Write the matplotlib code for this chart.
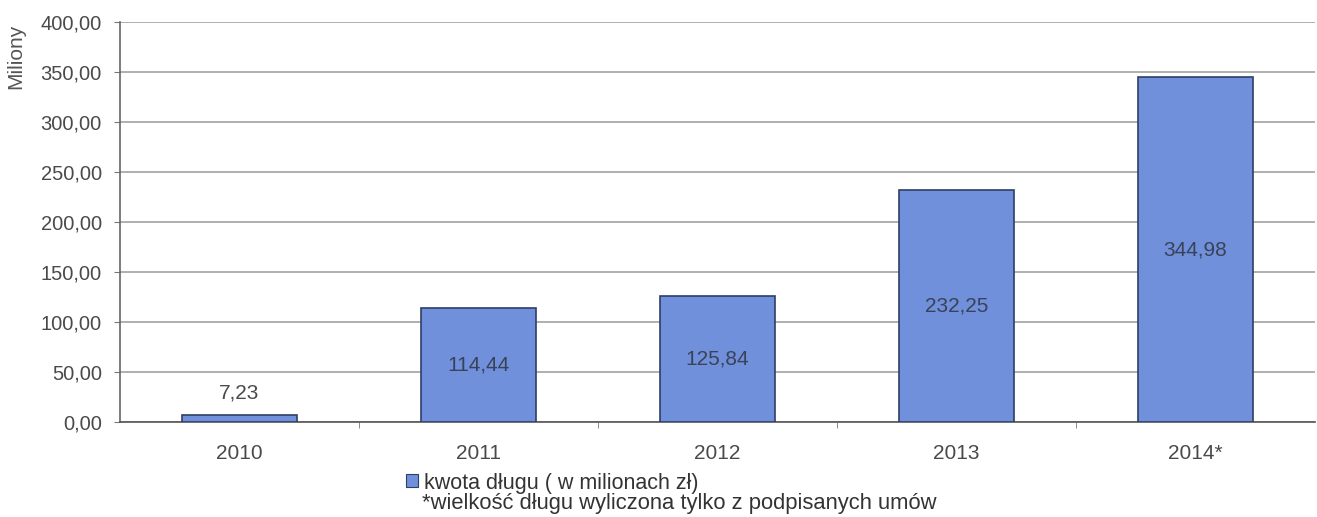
import matplotlib.pyplot as plt
from matplotlib.patches import Patch

years = ['2010', '2011', '2012', '2013', '2014*']
debt = [7.23, 114.44, 125.84, 232.25, 344.98]
labels = ['7,23', '114,44', '125,84', '232,25', '344,98']
yticks = [0, 50, 100, 150, 200, 250, 300, 350, 400]

plt.rcParams['font.family'] = ['Liberation Sans', 'DejaVu Sans']

fig = plt.figure(figsize=(13.17, 5.17), dpi=100)
ax = fig.add_axes([120 / 1317, 1 - 422 / 517, 1195 / 1317, 400 / 517])

x = range(len(years))
bars = ax.bar(x, debt, width=0.48, color='#7090dc', edgecolor='#2f3f66', linewidth=1.2, zorder=3)

for i, b in enumerate(bars):
    if i == 0:
        ax.text(b.get_x() + b.get_width() / 2, debt[i] + 12, labels[i],
                ha='center', va='bottom', fontsize=15, color='#4a4a4a')
    else:
        ax.text(b.get_x() + b.get_width() / 2, debt[i] / 2, labels[i],
                ha='center', va='center', fontsize=15, color='#3a4258', zorder=4)

ax.set_xlim(-0.5, len(years) - 0.5)
ax.set_ylim(0, 400)
ax.set_yticks(yticks)
ax.set_yticklabels(['%d,00' % v for v in yticks], fontsize=14.5, color='#4a4a4a')
ax.yaxis.grid(True, color='#9a9a9a', linewidth=1.1, zorder=0)

ax.set_xticks(list(x))
ax.set_xticklabels(years, fontsize=15, color='#4a4a4a')
ax.set_xticks([i + 0.5 for i in range(len(years) - 1)], minor=True)
ax.tick_params(axis='x', which='major', length=0, pad=16)
ax.tick_params(axis='x', which='minor', length=4, color='#777777', direction='out')
ax.tick_params(axis='y', length=4.5, color='#777777', pad=8.5)

for s in ['top', 'right']:
    ax.spines[s].set_visible(False)
ax.spines['left'].set_color('#666666')
ax.spines['bottom'].set_color('#555555')
ax.spines['left'].set_linewidth(1.2)
ax.spines['bottom'].set_linewidth(1.2)

ax.set_ylabel('Miliony', fontsize=15, color='#555555')
ax.yaxis.set_label_coords(-0.079, 0.915)

handle = Patch(facecolor='#7090dc', edgecolor='#2f3f66', linewidth=0.8)
fig.legend([handle], ['kwota długu ( w milionach zł)'], loc='center left',
           bbox_to_anchor=(406 / 1317, 1 - 483 / 517), frameon=False,
           fontsize=15.5, handlelength=0.55, handleheight=0.55, handletextpad=0.3,
           borderpad=0, borderaxespad=0, labelcolor='#333333')
fig.text(422 / 1317, 1 - 503 / 517, '*wielkość długu wyliczona tylko z podpisanych umów',
         fontsize=15.8, color='#333333', va='center')

fig.savefig('out.png', dpi=100)
